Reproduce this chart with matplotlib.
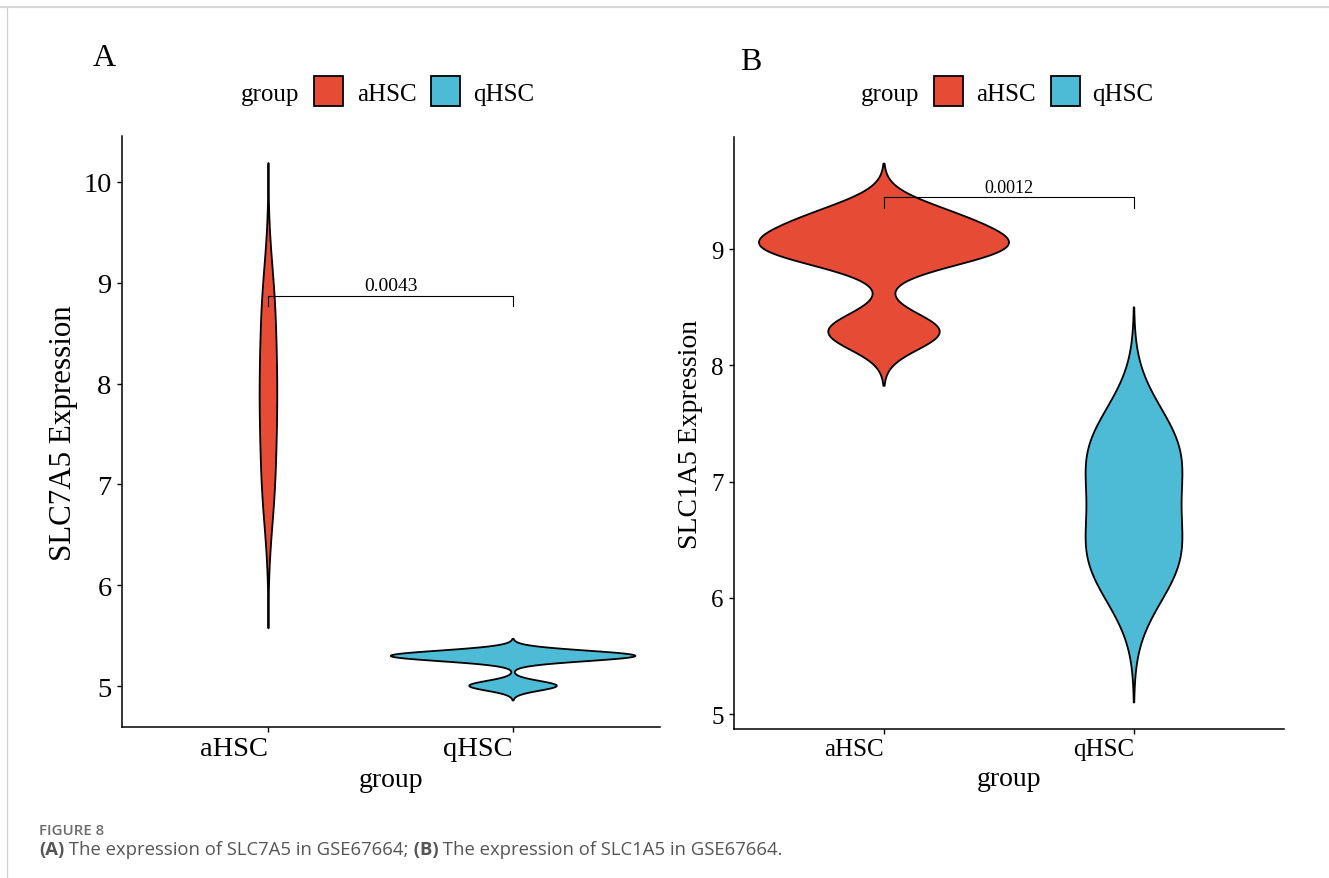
import numpy as np
import matplotlib
matplotlib.use("Agg")
import matplotlib.pyplot as plt
from matplotlib.patches import Rectangle
from matplotlib.lines import Line2D

# ---- data -------------------------------------------------------------
groups = ["aHSC", "qHSC"]
group_colors = ["#E64B35", "#4DBBD5"]

# expression values per group (GSE67664)
slc7a5_ahsc = [6.93, 7.61, 8.16, 8.83]
slc7a5_qhsc = [5.005, 5.28, 5.30, 5.325]
slc1a5_ahsc = [8.29, 8.97, 9.05, 9.27]
slc1a5_qhsc = [6.20, 6.52, 7.08, 7.40]

# comparison results: p value, bracket height, bracket tip drop
pval_slc7a5 = "0.0043"
pval_slc1a5 = "0.0012"
bracket_slc7a5 = (8.87, 0.105)
bracket_slc1a5 = (9.447, 0.095)

yticks_slc7a5 = [5, 6, 7, 8, 9, 10]
yticks_slc1a5 = [5, 6, 7, 8, 9]

# ---- helpers ----------------------------------------------------------
SERIF = "Liberation Serif"
W, H = 1329, 879
fig = plt.figure(figsize=(W / 100, H / 100), dpi=100)
fig.patch.set_facecolor("white")


def fx(px):
    return px / W


def fy(py):
    return 1 - py / H


def add_axes_px(left, top, right, bottom):
    return fig.add_axes([left / W, 1 - bottom / H, (right - left) / W, (bottom - top) / H])


def bw_nrd0(x):
    x = np.asarray(x, float)
    sd = x.std(ddof=1)
    q25, q75 = np.percentile(x, [25, 75])
    lo = min(sd, (q75 - q25) / 1.34)
    return 0.9 * lo * len(x) ** -0.2


def kde(x, n=512, cut=3):
    x = np.asarray(x, float)
    bw = bw_nrd0(x)
    y = np.linspace(x.min() - cut * bw, x.max() + cut * bw, n)
    z = (y[:, None] - x[None, :]) / bw
    d = np.exp(-0.5 * z ** 2).sum(axis=1) / (len(x) * bw * np.sqrt(2 * np.pi))
    return y, d


def draw_panel(box, series, ylabel, yticks, pval, bracket, tick_fs, title_fs,
               pval_fs, ylabelpad):
    ax = add_axes_px(*box)
    profiles = [kde(v) for v in series]
    dmax = max(d.max() for _, d in profiles)
    for i, ((y, d), col) in enumerate(zip(profiles, group_colors)):
        hw = d / dmax * 0.5
        xc = i + 1
        xs = np.concatenate([xc - hw, (xc + hw)[::-1]])
        ys = np.concatenate([y, y[::-1]])
        ax.fill(xs, ys, facecolor=col, edgecolor="black", linewidth=1.3,
                joinstyle="round", zorder=2)
    lo = min(y.min() for y, _ in profiles)
    hi = max(y.max() for y, _ in profiles)
    span = hi - lo
    ax.set_ylim(lo - 0.05 * span, hi + 0.05 * span)
    ax.set_xlim(0.4, 2.6)

    yb, drop = bracket
    ax.plot([1, 1, 2, 2], [yb - drop, yb, yb, yb - drop], color="black",
            linewidth=0.8, zorder=3)
    ax.annotate(pval, xy=(1.5, yb), xytext=(0, 4), textcoords="offset points",
                ha="center", va="baseline", fontsize=pval_fs, family=SERIF)

    ax.set_xticks([1, 2])
    ax.set_xticklabels(groups, family=SERIF, fontsize=tick_fs)
    for lbl in ax.get_xticklabels():
        lbl.set_horizontalalignment("right")
    ax.set_yticks(yticks)
    ax.set_yticklabels([str(t) for t in yticks], family=SERIF, fontsize=tick_fs)
    ax.tick_params(axis="both", length=3.3, width=1.0, color="black",
                   labelcolor="black")
    ax.tick_params(axis="y", pad=4)
    ax.tick_params(axis="x", pad=3)
    for s in ("top", "right"):
        ax.spines[s].set_visible(False)
    for s in ("left", "bottom"):
        ax.spines[s].set_linewidth(1.1)
        ax.spines[s].set_color("black")
    ax.set_xlabel("group", family=SERIF, fontsize=20, labelpad=4)
    ax.set_ylabel(ylabel, family=SERIF, fontsize=title_fs, labelpad=ylabelpad)
    return ax


def draw_legend(x0, yc):
    fig.text(fx(x0), fy(yc + 9), "group", family=SERIF, fontsize=18,
             va="baseline", ha="left")
    offsets = [(73, 116), (190, 232)]
    for (sq, tx), name, col in zip(offsets, groups, group_colors):
        fig.patches.append(Rectangle((fx(x0 + sq), fy(yc + 15)), 29 / W, 30 / H,
                                     transform=fig.transFigure, facecolor=col,
                                     edgecolor="black", linewidth=1.3))
        fig.text(fx(x0 + tx), fy(yc + 9), name, family=SERIF, fontsize=18,
                 va="baseline", ha="left")


# ---- panels -----------------------------------------------------------
draw_panel((121.7, 137.2, 659.8, 728.3), [slc7a5_ahsc, slc7a5_qhsc],
           "SLC7A5 Expression", yticks_slc7a5, pval_slc7a5, bracket_slc7a5,
           tick_fs=20.5, title_fs=22.3, pval_fs=14, ylabelpad=4)
draw_panel((734.0, 137.7, 1284.0, 730.4), [slc1a5_ahsc, slc1a5_qhsc],
           "SLC1A5 Expression", yticks_slc1a5, pval_slc1a5, bracket_slc1a5,
           tick_fs=18, title_fs=20, pval_fs=13, ylabelpad=6)

fig.text(fx(93), fy(66), "A", family=SERIF, fontsize=23, va="baseline")
fig.text(fx(740), fy(70), "B", family=SERIF, fontsize=23, va="baseline")
draw_legend(241, 92)
draw_legend(860.5, 92)

# ---- frame lines and caption -------------------------------------------
fig.add_artist(Line2D([0, 1], [fy(7.5), fy(7.5)], transform=fig.transFigure,
                      color="#d6d6d6", linewidth=1.6))
fig.add_artist(Line2D([fx(7), fx(7)], [fy(7.5), 0], transform=fig.transFigure,
                      color="#d0d0d0", linewidth=0.9))

fig.text(fx(39), fy(835), "FIGURE 8", family="Open Sans", fontsize=10.8,
         weight="semibold", color="#6b6b6b", va="baseline")

renderer = fig.canvas.get_renderer()
segments = [("(A)", "bold"), (" The expression of SLC7A5 in GSE67664;", "normal"),
            (" (B)", "bold"), (" The expression of SLC1A5 in GSE67664.", "normal")]
xpos = 39.0
for txt, wt in segments:
    t = fig.text(fx(xpos), fy(855), txt, family="Open Sans", fontsize=13.3,
                 weight=wt, color="#555555", va="baseline")
    xpos += t.get_window_extent(renderer).width

fig.savefig("out.png", dpi=100, facecolor="white")
